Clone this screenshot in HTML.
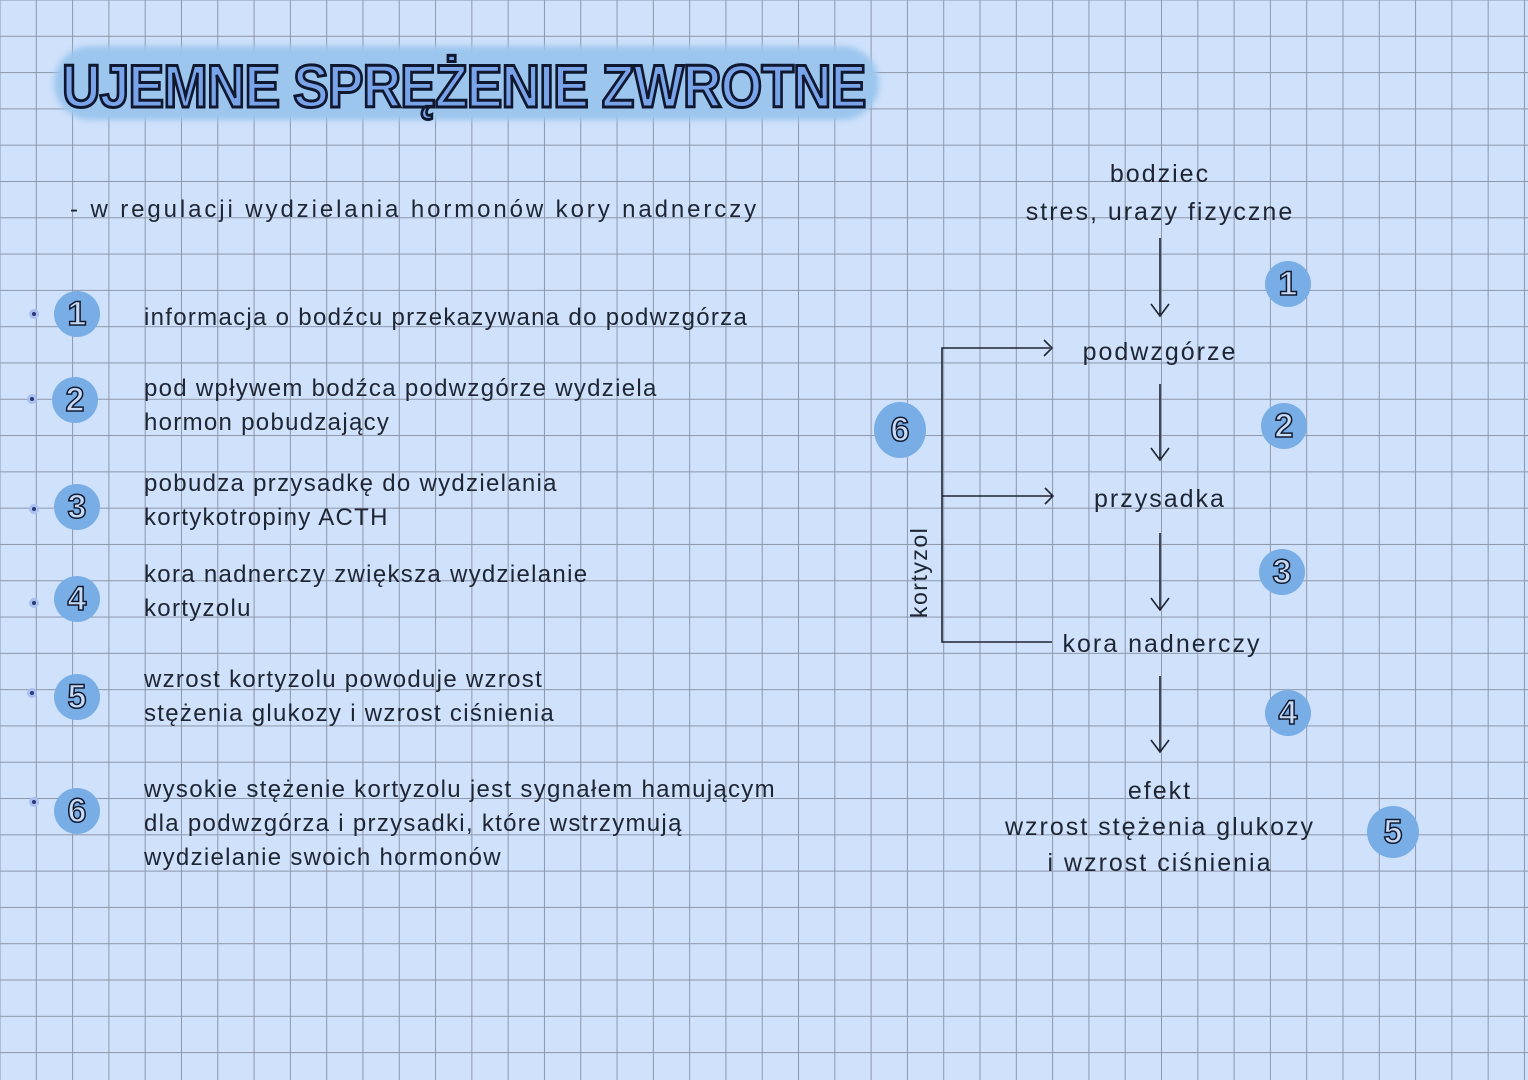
<!DOCTYPE html>
<html><head><meta charset="utf-8"><style>
html,body{margin:0;padding:0}
body{width:1528px;height:1080px;position:relative;overflow:hidden;
background-color:#cfe1fb;
background-image:linear-gradient(to right,#8d97ab 1.2px,transparent 1.2px),linear-gradient(to bottom,#8d97ab 1.2px,transparent 1.2px);
background-size:36.3px 36.3px;background-position:-0.5px -0.5px;
font-family:"Liberation Sans",sans-serif;color:#1e2533}
.t{position:absolute;font-size:24px;line-height:34px;white-space:nowrap;letter-spacing:1.3px}
.halo{position:absolute;left:54px;top:46px;width:825px;height:74px;border-radius:37px;background:#9cc6ee;filter:blur(3px)}
.title{position:absolute;left:62px;top:52px;font-size:60px;font-weight:bold;color:#7aa4ea;
-webkit-text-stroke:3px #101830;letter-spacing:-1px;transform:scaleX(0.89);transform-origin:0 0}
.c{position:absolute;width:46px;height:46px;border-radius:50%;background:#78ade6;
text-align:center;line-height:46px;font-size:34px;font-weight:bold;color:#c7dbf7;
-webkit-text-stroke:1.5px #121a30}
.dot{position:absolute;width:10px;height:10px;border-radius:50%;background:#a8bff0}
.dot::after{content:"";position:absolute;left:3px;top:3px;width:4px;height:4px;border-radius:50%;background:#2a3a78}
.ct{text-align:center;font-size:25px;letter-spacing:2px}
</style></head><body>
<div class="halo"></div>
<div class="title">UJEMNE SPRĘŻENIE ZWROTNE</div>
<div class="t" style="left:70px;top:193px;letter-spacing:2.9px">- w regulacji wydzielania hormonów kory nadnerczy</div>

<div class="dot" style="left:29px;top:309px"></div><div class="c" style="left:54px;top:291px">1</div>
<div class="t" style="left:144px;top:301px">informacja o bodźcu przekazywana do podwzgórza</div>
<div class="dot" style="left:27px;top:394px"></div><div class="c" style="left:52px;top:377px">2</div>
<div class="t" style="left:144px;top:372px">pod wpływem bodźca podwzgórze wydziela<br>hormon pobudzający</div>
<div class="dot" style="left:29px;top:504px"></div><div class="c" style="left:54px;top:484px">3</div>
<div class="t" style="left:144px;top:467px">pobudza przysadkę do wydzielania<br>kortykotropiny ACTH</div>
<div class="dot" style="left:29px;top:598px"></div><div class="c" style="left:54px;top:576px">4</div>
<div class="t" style="left:144px;top:558px">kora nadnerczy zwiększa wydzielanie<br>kortyzolu</div>
<div class="dot" style="left:27px;top:688px"></div><div class="c" style="left:54px;top:674px">5</div>
<div class="t" style="left:144px;top:663px">wzrost kortyzolu powoduje wzrost<br>stężenia glukozy i wzrost ciśnienia</div>
<div class="dot" style="left:29px;top:797px"></div><div class="c" style="left:54px;top:788px">6</div>
<div class="t" style="left:144px;top:773px">wysokie stężenie kortyzolu jest sygnałem hamującym<br>dla podwzgórza i przysadki, które wstrzymują<br>wydzielanie swoich hormonów</div>

<div class="t ct" style="left:960px;width:400px;top:155px;line-height:38px">bodziec<br>stres, urazy fizyczne</div>
<div class="t ct" style="left:960px;width:400px;top:335px">podwzgórze</div>
<div class="t ct" style="left:960px;width:400px;top:482px">przysadka</div>
<div class="t ct" style="left:962px;width:400px;top:627px">kora nadnerczy</div>
<div class="t ct" style="left:960px;width:400px;top:773px;line-height:36px">efekt<br>wzrost stężenia glukozy<br>i wzrost ciśnienia</div>
<div class="t" style="left:902px;top:618px;transform:rotate(-90deg);transform-origin:0 0;font-size:23px;letter-spacing:1.5px">kortyzol</div>

<div class="c" style="left:1265px;top:261px">1</div>
<div class="c" style="left:1261px;top:403px">2</div>
<div class="c" style="left:1259px;top:549px">3</div>
<div class="c" style="left:1265px;top:690px">4</div>
<div class="c" style="left:1367px;top:806px;width:52px;height:52px;line-height:52px">5</div>
<div class="c" style="left:874px;top:402px;width:52px;height:56px;line-height:56px">6</div>

<svg width="1528" height="1080" style="position:absolute;left:0;top:0" fill="none" stroke="#1e2533" stroke-width="1.6">
<path d="M1160 238V316M1151 304L1160 316L1169 304"/>
<path d="M1160 384V460M1151 448L1160 460L1169 448"/>
<path d="M1160 533V610M1151 598L1160 610L1169 598"/>
<path d="M1160 676V752M1151 740L1160 752L1169 740"/>
<path d="M1052 642H942V348H1050M1044 340L1052 348L1044 356"/>
<path d="M942 496H1052M1045 488L1053 496L1045 504"/>
</svg>
</body></html>
